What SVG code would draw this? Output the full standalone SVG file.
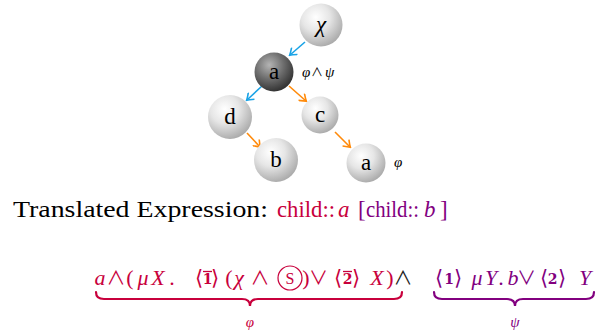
<svg xmlns="http://www.w3.org/2000/svg" width="597" height="333" viewBox="0 0 597 333">
<style>
.lbl{font-family:"Liberation Serif","DejaVu Serif",serif;font-size:23px;text-anchor:middle;fill:#000}
.op{font-family:"Noto Sans CJK JP","DejaVu Sans",sans-serif;font-size:19px;text-anchor:middle}
.br{font-family:"Noto Sans CJK JP","DejaVu Sans",sans-serif;font-size:21px;text-anchor:middle}
.it{font-family:"Liberation Serif","DejaVu Serif",serif;font-style:italic}
.rm{font-family:"Liberation Serif","DejaVu Serif",serif}
.f text{text-anchor:middle}
.red{fill:#c8003c}
.pur{fill:#82007f}
.f{font-size:22px}
.bd{font-family:"DejaVu Serif",serif;font-weight:bold;font-size:14px}
.blue{stroke:#1aa3e6;stroke-width:1.6;fill:none;marker-end:url(#mb)}
.org{stroke:#ff8a0a;stroke-width:1.6;fill:none;marker-end:url(#mo)}
</style>
<defs>
<radialGradient id="gl" cx="0.38" cy="0.32" r="0.72">
<stop offset="0" stop-color="#ffffff"/>
<stop offset="0.45" stop-color="#e6e6e6"/>
<stop offset="1" stop-color="#a8a8a8"/>
</radialGradient>
<radialGradient id="gd" cx="0.38" cy="0.32" r="0.72">
<stop offset="0" stop-color="#b4b4b4"/>
<stop offset="0.5" stop-color="#6e6e6e"/>
<stop offset="1" stop-color="#2e2e2e"/>
</radialGradient>
<marker id="mb" viewBox="-7 -5 9 10" markerWidth="9" markerHeight="10" markerUnits="userSpaceOnUse" orient="auto" refX="0" refY="0">
<path d="M-6,-4.5 Q-1.5,-1 0.5,0 Q-1.5,1 -6,4.5" fill="none" stroke="#1aa3e6" stroke-width="1.6"/>
</marker>
<marker id="mo" viewBox="-7 -5 9 10" markerWidth="9" markerHeight="10" markerUnits="userSpaceOnUse" orient="auto" refX="0" refY="0">
<path d="M-6,-4.5 Q-1.5,-1 0.5,0 Q-1.5,1 -6,4.5" fill="none" stroke="#ff8a0a" stroke-width="1.6"/>
</marker>
</defs>

<g id="edges">
<line class="blue" x1="305" y1="42" x2="290" y2="55"/>
<line class="blue" x1="262" y1="86" x2="247" y2="100"/>
<line class="org" x1="289" y1="86" x2="306" y2="101"/>
<line class="org" x1="247" y1="133" x2="260" y2="147"/>
<line class="org" x1="335" y1="132" x2="350" y2="147"/>
</g>

<g id="n-chi"><circle cx="321" cy="25" r="21.5" fill="url(#gl)"/><text class="lbl it" x="321" y="32">χ</text></g>
<g id="n-a1"><circle cx="274" cy="72" r="19.5" fill="url(#gd)"/><text class="lbl" x="274" y="79">a</text></g>
<g id="lbl-a1" font-size="15"><text class="it" x="302" y="77">φ</text><text class="op" x="317" y="77" style="font-size:12px">∧</text><text class="it" x="325" y="77">ψ</text></g>
<g id="n-d"><circle cx="230" cy="117" r="22" fill="url(#gl)"/><text class="lbl" x="230" y="124">d</text></g>
<g id="n-c"><circle cx="320" cy="115" r="18.5" fill="url(#gl)"/><text class="lbl" x="320" y="122">c</text></g>
<g id="n-b"><circle cx="276" cy="160" r="22" fill="url(#gl)"/><text class="lbl" x="276" y="167">b</text></g>
<g id="n-a2"><circle cx="366" cy="163" r="19.5" fill="url(#gl)"/><text class="lbl" x="366" y="170">a</text></g>
<text class="it" x="394" y="167" font-size="15">φ</text>

<g id="caption" font-size="23">
<text class="rm" x="13" y="217" textLength="255" lengthAdjust="spacingAndGlyphs">Translated Expression:</text>
<text class="rm red" x="277" y="217" textLength="58" lengthAdjust="spacingAndGlyphs">child::</text>
<text class="it red" x="338" y="217">a</text>
<text class="rm pur" x="358" y="217">[</text>
<text class="rm pur" x="366" y="217" textLength="53" lengthAdjust="spacingAndGlyphs">child::</text>
<text class="it pur" x="424" y="217">b</text>
<text class="rm pur" x="440" y="217">]</text>
</g>

<g id="formula" class="f">
<text class="it red" x="100" y="285">a</text>
<text class="op red" x="116" y="285">∧</text>
<text class="rm red" x="130" y="285">(</text>
<text class="it red" x="143" y="285">μ</text>
<text class="it red" x="158" y="285">X</text>
<text class="rm red" x="172" y="285">.</text>
<text class="br red" x="199" y="285">⟨</text>
<text class="bd red" x="207.5" y="284">1</text>
<line x1="203" y1="271.5" x2="212" y2="271.5" stroke="#c8003c" stroke-width="1.3"/>
<text class="br red" x="215" y="285">⟩</text>
<text class="rm red" x="229" y="285">(</text>
<text class="it red" x="239" y="285">χ</text>
<text class="op red" x="260" y="285">∧</text>
<circle cx="290" cy="278" r="12" fill="none" stroke="#c8003c" stroke-width="1.2"/>
<text class="rm red" x="290" y="284" font-size="16">S</text>
<text class="rm red" x="306" y="285">)</text>
<text class="op red" x="318.5" y="285">∨</text>
<text class="br red" x="338" y="285">⟨</text>
<text class="bd red" x="347.5" y="284">2</text>
<line x1="343" y1="271.5" x2="352" y2="271.5" stroke="#c8003c" stroke-width="1.3"/>
<text class="br red" x="356" y="285">⟩</text>
<text class="it red" x="377" y="285">X</text>
<text class="rm red" x="390" y="285">)</text>
<text class="op" x="403" y="285" fill="#222">∧</text>
<text class="br pur" x="439" y="285">⟨</text>
<text class="bd pur" x="449" y="284">1</text>
<text class="br pur" x="458" y="285">⟩</text>
<text class="it pur" x="477" y="285">μ</text>
<text class="it pur" x="491" y="285">Y</text>
<text class="rm pur" x="501" y="285">.</text>
<text class="it pur" x="513" y="285">b</text>
<text class="op pur" x="526.5" y="285">∨</text>
<text class="br pur" x="544" y="285">⟨</text>
<text class="bd pur" x="552.5" y="284">2</text>
<text class="br pur" x="562" y="285">⟩</text>
<text class="it pur" x="585" y="285">Y</text>
</g>

<g id="braces" fill="none" stroke-width="2.2" stroke-linecap="round">
<path d="M96,292 Q96,299 104,299 L242,299 Q250,299 250,306 Q250,299 258,299 L394,299 Q402,299 402,292" stroke="#c8003c"/>
<path d="M434,292 Q434,299 442,299 L507,299 Q515,299 515,306 Q515,299 523,299 L586,299 Q594,299 594,292" stroke="#82007f"/>
</g>
<text class="it red" x="250" y="327" font-size="15" text-anchor="middle">φ</text>
<text class="it pur" x="515" y="327" font-size="15" text-anchor="middle">ψ</text>
</svg>
